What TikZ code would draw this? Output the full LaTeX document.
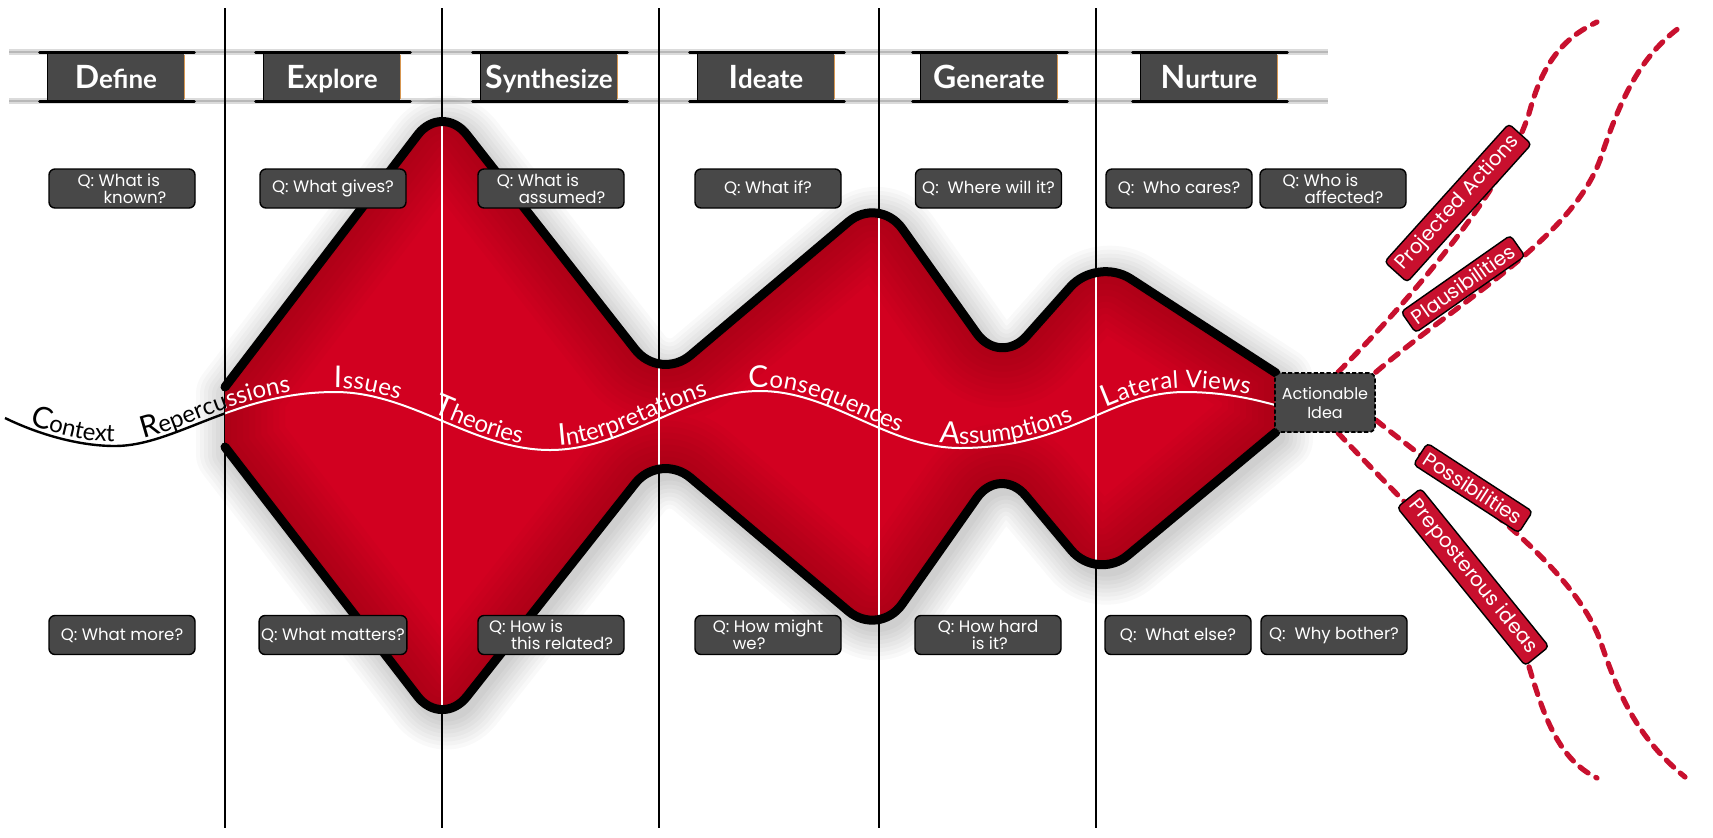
\documentclass[tikz,border=0pt]{standalone}
\usepackage{fontspec}
\setmainfont{Lato}
\newfontfamily\popf{Poppins}
\newfontfamily\latof{Lato}
\usetikzlibrary{decorations.text}
\definecolor{redmain}{RGB}{210,0,32}
\definecolor{reddark}{RGB}{90,0,10}
\definecolor{qgray}{RGB}{72,72,72}
\definecolor{labred}{RGB}{200,16,46}
\definecolor{hdrorange}{RGB}{215,150,80}
\newcommand\wvcap{\latof\fontsize{15}{15}\selectfont}
\newcommand\wvlow{\latof\fontsize{12}{12}\selectfont}
\newcommand\hdcap{\fontsize{16}{16}\selectfont}
\def\toppath{(225,387) -- (268.4,330.2) [rounded corners=20pt] -- (442,103) -- (660,381) -- (879,196) -- (1000,366) -- (1097,257) -- (1186.5,315) [sharp corners] -- (1276,373)}
\def\botpath{(225,447) -- (268.4,503.2) [rounded corners=20pt] -- (442,728) -- (660,452) -- (879,637) -- (1000,465) -- (1097,581) -- (1186.5,506.5) [sharp corners] -- (1276,432)}
\def\shapepath{\toppath -- (1276,432) -- (1186.5,506.5) [rounded corners=20pt] -- (1097,581) -- (1000,465) -- (879,637) -- (660,452) -- (442,728) -- (268.4,503.2) [sharp corners] -- (225,447) -- cycle}
\def\wave{(5,418) .. controls (40,435) and (80,446) .. (115,446) .. controls (175,446) and (235,392) .. (335,392) .. controls (412,392) and (473,450) .. (550,450) .. controls (625,450) and (685,391) .. (760,391) .. controls (832,391) and (888,448) .. (960,448) .. controls (1070,448) and (1110,392) .. (1185,392) .. controls (1220,392) and (1250,398) .. (1275,405)}
\newcommand\waveword[3]{\path[decorate,decoration={text along path,text={#1},text color=#2,text align={left,left indent=#3},raise=2pt}] \wave;}
\begin{document}
\begin{tikzpicture}[x=0.5pt,y=-0.5pt,
  colline/.style={line width=1pt, draw=black},
  outline/.style={line width=4.5pt, line cap=round, line join=round, draw=black},
  qbox/.style={draw=black, line width=0.7pt, fill=qgray, rounded corners=3pt, minimum width=73pt, minimum height=19.5pt, text=white, font=\popf\fontsize{8.3}{8.6}\selectfont, align=left, inner sep=1pt},
  hdrbox/.style={fill=qgray, minimum width=68pt, minimum height=24pt, inner sep=0pt, text=white, font=\latof\bfseries\fontsize{13}{13}\selectfont, text height=12pt, text depth=1pt},
  hdrline/.style={draw=black, line width=1.5pt, line cap=round},
  bandline/.style={draw=black!14, line width=3pt},
  actbox/.style={fill=qgray, draw=black, line width=0.8pt, dash pattern=on 2pt off 1.2pt, rounded corners=3pt, minimum width=50pt, minimum height=29.5pt, text=white, font=\popf\fontsize{8}{9.5}\selectfont, align=center, inner sep=1pt},
  lab/.style={fill=labred, draw=black, line width=0.7pt, rounded corners=2pt, text=white, font=\popf\fontsize{10}{10}\selectfont, inner xsep=3pt, inner ysep=2.5pt},
  dashcurve/.style={draw=labred, line width=2.6pt, dash pattern=on 5pt off 4.5pt, line cap=round}]
\useasboundingbox (0,0) rectangle (1713,837);
\fill[white] (0,0) rectangle (1713,837);
% header band
\draw[bandline] (9,52) -- (1328,52);
\draw[bandline] (9,101) -- (1328,101);
\draw[draw=black!28, line width=0.6pt] (9,52) -- (1328,52) (9,101) -- (1328,101);
% column lines
\foreach \x in {225,442,659,879,1096} \draw[colline] (\x,8) -- (\x,828);
% shadow
\begin{scope}[shift={(4,7)}]
\foreach \w in {5,9,...,33} \draw[black, opacity=0.022, line width=\w pt, line join=round] \shapepath;
\end{scope}
% red shape
\fill[redmain] \shapepath;
\begin{scope}
\clip \shapepath;
\foreach \w in {6,12,...,60} \draw[reddark, opacity=0.03, line width=\w pt, line join=round] \shapepath;
\foreach \x in {442,659,879,1096} \draw[white, line width=0.8pt] (\x,0) -- (\x,837);
\draw[white, line width=1pt] \wave;
\waveword{|\wvcap|R|\wvlow|epercussions}{white}{72pt}
\waveword{|\wvcap|I|\wvlow|ssues}{white}{170.5pt}
\waveword{|\wvcap|T|\wvlow|heories}{white}{221pt}
\waveword{|\wvcap|I|\wvlow|nterpretations}{white}{288pt}
\waveword{|\wvcap|C|\wvlow|onsequences}{white}{387.5pt}
\waveword{|\wvcap|A|\wvlow|ssumptions}{white}{487.5pt}
\waveword{|\wvcap|L|\wvlow|ateral Views}{white}{574.5pt}
\end{scope}
\draw[outline] \toppath;
\draw[outline] \botpath;
% black part of the wave
\begin{scope}
\clip (0,0) rectangle (225,837);
\draw[black, line width=1.2pt] \wave;
\waveword{|\wvcap|C|\wvlow|ontext}{black}{12.5pt}
\waveword{|\wvcap|R|\wvlow|epercussions}{black}{72pt}
\end{scope}
% headers
\foreach \cx/\nm/\cap/\rest in {116/define/D/efine, 332/explore/E/xplore, 549/synth/S/ynthesize, 766/ideate/I/deate, 989/generate/G/enerate, 1209/nurture/N/urture}{
  \node[hdrbox] (\nm) at (\cx,77) {{\hdcap\cap}\rest};
  \draw[hdrorange, line width=0.8pt] ([yshift=-1pt]\nm.north east) -- ([yshift=1pt]\nm.south east);
  \draw[hdrline] ([xshift=-4pt]\nm.north west) -- ([xshift=5pt]\nm.north east);
  \draw[hdrline] ([xshift=-4pt]\nm.south west) -- ([xshift=5pt]\nm.south east);
  \draw[black, line width=0.8pt] (\nm.north west) -- (\nm.south west);
}
% question boxes
\node[qbox] (qt1) at (122,188.5) {Q: What is\\\hspace*{13pt}known?};
\node[qbox] (qt2) at (333,188.5) {Q: What gives?};
\node[qbox] (qt3) at (551,188.5) {Q: What is\\\hspace*{11pt}assumed?};
\node[qbox] (qt4) at (768,188.5) {Q: What if?};
\node[qbox] (qt5) at (988.5,188.5) {Q:~ Where will it?};
\node[qbox] (qt6) at (1179,188.5) {Q:~ Who cares?};
\node[qbox] (qt7) at (1333,188.5) {Q: Who is\\\hspace*{11pt}affected?};
\node[qbox] (qb1) at (122,635) {Q: What more?};
\node[qbox] (qb2) at (333,635) {Q: What matters?};
\node[qbox] (qb3) at (551,635) {Q: How is\\\hspace*{11pt}this related?};
\node[qbox] (qb4) at (768,635) {Q: How might\\\hspace*{10pt}we?};
\node[qbox] (qb5) at (988,635) {Q: How hard\\\hspace*{17pt}is it?};
\node[qbox] (qb6) at (1178,635) {Q:~ What else?};
\node[qbox] (qb7) at (1334,635) {Q:~ Why bother?};
% dashed branches
\coordinate (e1) at (1597,22);
\coordinate (e2) at (1683,25);
\coordinate (e3) at (1685,777);
\coordinate (e4) at (1597,778);
\node[actbox] (act) at (1325,402.5) {Actionable\\Idea};
\draw[dashcurve] ([xshift=6.5pt]act.north) .. controls (1420,290) and (1510,180) .. (1530,110) .. controls (1545,55) and (1570,35) .. (e1);
\draw[dashcurve] (act.north east) .. controls (1460,300) and (1570,240) .. (1600,160) .. controls (1620,100) and (1640,55) .. (e2);
\draw[dashcurve] ([yshift=-8.75pt]act.east) .. controls (1450,480) and (1570,560) .. (1600,640) .. controls (1620,700) and (1640,740) .. (e3);
\draw[dashcurve] ([xshift=6.5pt]act.south) .. controls (1400,500) and (1510,600) .. (1530,670) .. controls (1545,720) and (1560,760) .. (e4);
\node[actbox] (act2) at (act) {Actionable\\Idea};
\node[lab, rotate=48] (lab1) at (1458,203) {Projected Actions};
\node[lab, rotate=35] (lab2) at (1463,284) {Plausibilities};
\node[lab, rotate=-33] (lab3) at (1473,488) {Possibilities};
\node[lab, rotate=-51] (lab4) at (1473,577) {Preposterous ideas};
\end{tikzpicture}
\end{document}
